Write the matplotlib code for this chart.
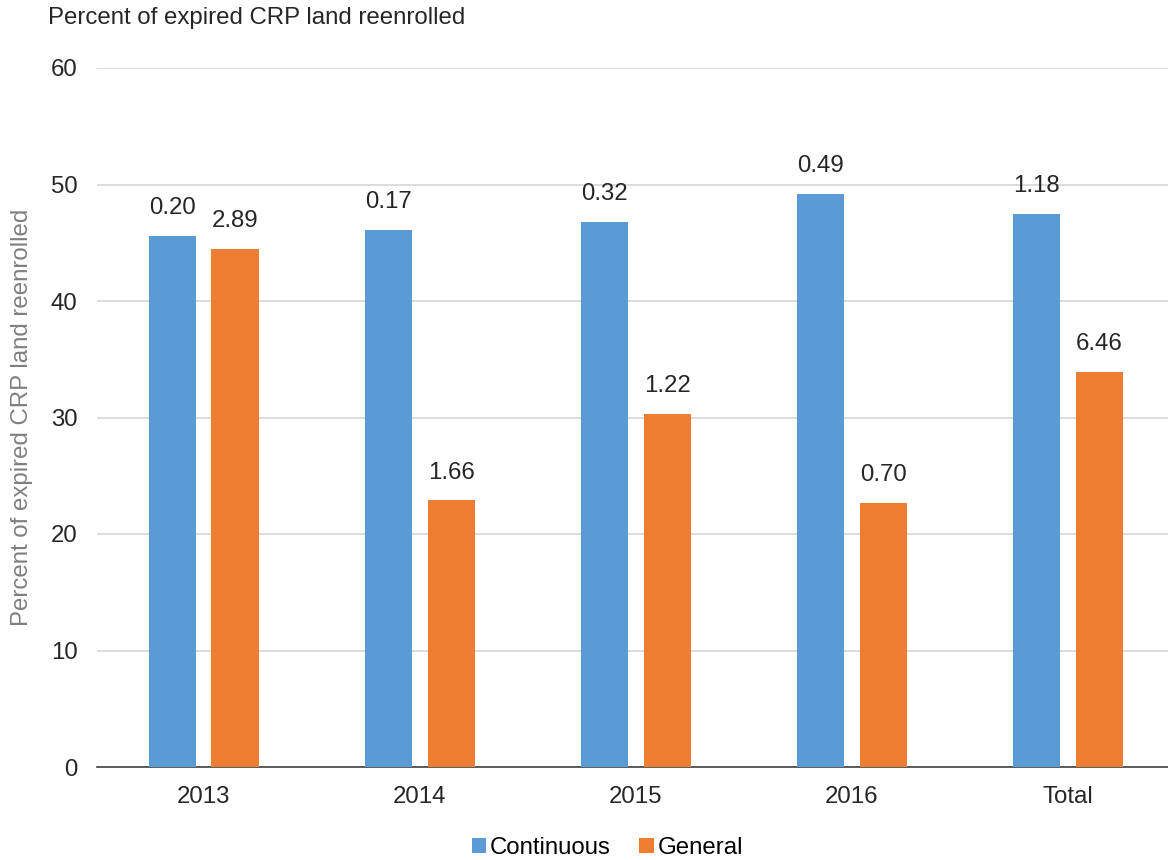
import matplotlib.pyplot as plt
import matplotlib.patches as patches
import numpy as np

plt.rcParams['font.family'] = ['Liberation Sans', 'DejaVu Sans']

categories = ["2013", "2014", "2015", "2016", "Total"]
continuous_pct = [45.6, 46.1, 46.8, 49.2, 47.5]
general_pct = [44.5, 22.9, 30.3, 22.7, 33.9]
continuous_labels = ["0.20", "0.17", "0.32", "0.49", "1.18"]
general_labels = ["2.89", "1.66", "1.22", "0.70", "6.46"]
yticks = [0, 10, 20, 30, 40, 50, 60]

blue = "#5B9BD5"
orange = "#ED7D31"
fs = 17.3

fig = plt.figure(figsize=(11.68, 8.6), dpi=100)
ax = fig.add_axes([97 / 1168, 1 - 767 / 860, 1071 / 1168, 699 / 860])

x = np.arange(len(categories))
bw = 0.218
off = 0.144
b1 = ax.bar(x - off, continuous_pct, bw, color=blue, label="Continuous", zorder=3)
b2 = ax.bar(x + off, general_pct, bw, color=orange, label="General", zorder=3)

for bars, labels in ((b1, continuous_labels), (b2, general_labels)):
    for rect, s in zip(bars, labels):
        ax.annotate(s, (rect.get_x() + rect.get_width() / 2, rect.get_height()),
                    xytext=(0, 12), textcoords="offset points",
                    ha="center", va="bottom", fontsize=fs, color="#262626")

ax.set_ylim(0, 60)
ax.set_xlim(-0.495, 4.463)
ax.set_yticks(yticks)
ax.set_xticks(x)
ax.set_xticklabels(categories)
ax.tick_params(axis="both", length=0, labelsize=fs, colors="#262626")
ax.tick_params(axis="y", pad=14)
ax.tick_params(axis="x", pad=14)
ax.grid(axis="y", color="#d9d9d9", linewidth=1.3, zorder=0)
for s in ("top", "right", "left"):
    ax.spines[s].set_visible(False)
ax.spines["bottom"].set_color("#404040")
ax.spines["bottom"].set_linewidth(1.2)

fig.text(48 / 1168, 1 - 18 / 860, "Percent of expired CRP land reenrolled",
         fontsize=fs, color="#262626", ha="left", va="center")
fig.text(22 / 1168, 1 - 417 / 860, "Percent of expired CRP land reenrolled",
         fontsize=fs, color="#7f7f7f", rotation=90, ha="center", va="center")

fig.legend(handles=[b1, b2], loc="center", bbox_to_anchor=(0.52, 1 - 848 / 860),
           ncol=2, frameon=False, fontsize=fs, handlelength=0.6, handleheight=0.6,
           handletextpad=0.15, columnspacing=1.2)

fig.savefig("out.png", dpi=100)
